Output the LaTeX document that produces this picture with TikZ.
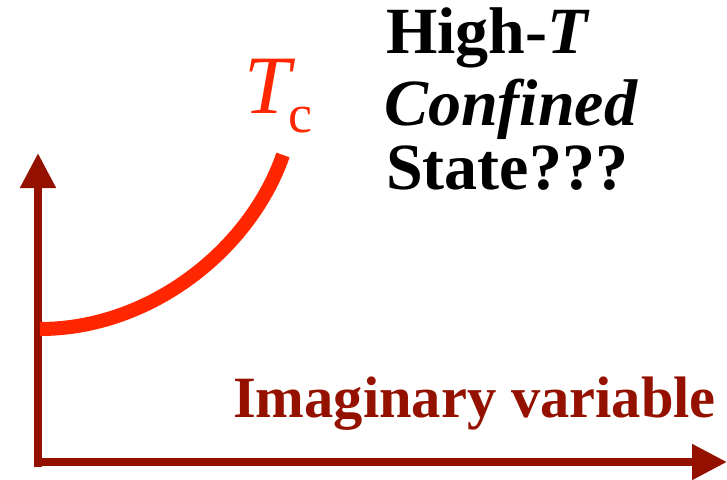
\documentclass[tikz,border=0pt]{standalone}
\usepackage{fontspec}
\setmainfont{Liberation Serif}
\usetikzlibrary{arrows.meta}
\definecolor{cayenne}{HTML}{941100}
\definecolor{tcred}{HTML}{FF2600}
\begin{document}
\begin{tikzpicture}[x=1pt,y=-1pt]
\tikzset{
  axis/.style={draw=cayenne, line width=8pt, -{Triangle[length=35pt 0, width=34pt 0]}},
  lbl/.style={inner sep=0pt, anchor=base west},
  big/.style={font=\fontsize{66}{66}\selectfont\bfseries}
}
\useasboundingbox (0,0) rectangle (727,479);
\coordinate (o) at (38,467);
\coordinate (ytop) at (38,153);
\coordinate (ox) at (34,462);
\coordinate (xend) at (727,462);
\draw[axis] (o) -- (ytop);
\draw[axis] (ox) -- (xend);
\coordinate (c0) at (40,329);
\coordinate (c1) at (283,155);
\draw[tcred, line width=14pt] (c0) .. controls (150,329) and (250,250) .. (c1);
\node[lbl, tcred, font=\fontsize{83}{83}\selectfont\itshape] (T) at (244,113) {T};
\node[lbl, tcred, font=\fontsize{54}{54}\selectfont] (c) at (288,132) {c};
\node[lbl, big] (high) at (386,53) {High-\textit{T}};
\node[lbl, big] (conf) at (384,125) {\textit{Confined}};
\node[lbl, big] (state) at (386,189) {State???};
\node[lbl, font=\fontsize{58.5}{58.5}\selectfont\bfseries, text=cayenne] (imag) at (233,417) {Imaginary variable};
\end{tikzpicture}
\end{document}
